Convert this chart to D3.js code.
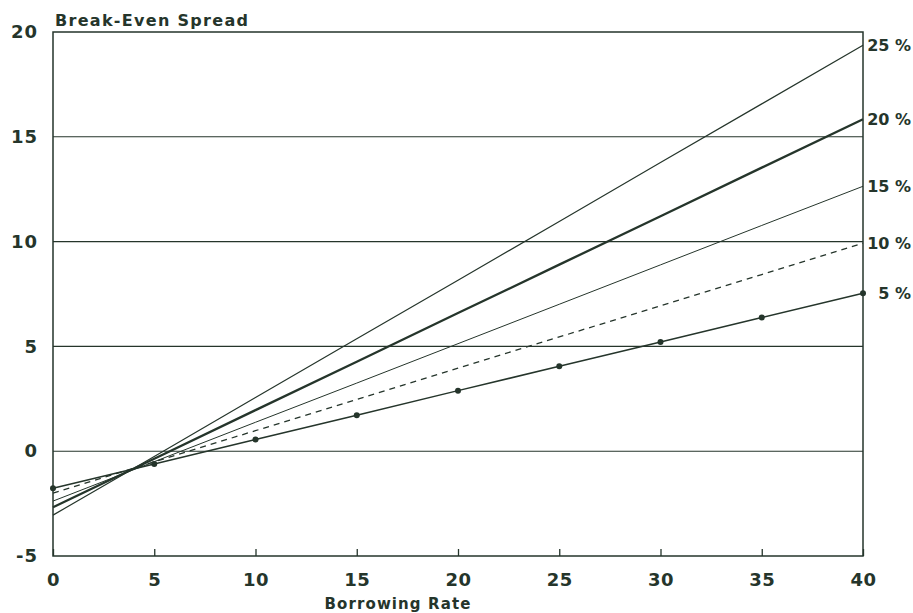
<!DOCTYPE html>
<html>
<head>
<meta charset="utf-8">
<script src="https://cdn.jsdelivr.net/npm/d3@7"></script>
<style>
  body { margin: 0; background: #fff; }
  text { font-family: "DejaVu Sans", "Liberation Sans", sans-serif; font-weight: bold; fill: #25352b; }
</style>
</head>
<body>
<svg id="chart" width="913" height="613"></svg>
<script>
// borrowing rate (x) and break-even spread per tax rate
let rates = [0, 5, 10, 15, 20, 25, 30, 35, 40];
let series25 = [-3.05, -0.25, 2.56, 5.36, 8.16, 10.96, 13.77, 16.57, 19.37];
let series20 = [-2.67, -0.36, 1.96, 4.27, 6.59, 8.90, 11.21, 13.53, 15.84];
let series15 = [-2.38, -0.50, 1.38, 3.25, 5.13, 7.01, 8.89, 10.77, 12.64];
let series10 = [-2.00, -0.51, 0.98, 2.47, 3.96, 5.45, 6.94, 8.43, 9.92];
let series05 = [-1.77, -0.61, 0.56, 1.72, 2.89, 4.05, 5.21, 6.38, 7.54];
let seriesNames = ["25 %", "20 %", "15 %", "10 %", "5 %"];
let xTicks = [0, 5, 10, 15, 20, 25, 30, 35, 40];
let yTicks = [-5, 0, 5, 10, 15, 20];

let ink = "#25352b";
let svg = d3.select("#chart");

let margin = { left: 53, right: 50, top: 32, bottom: 57 };
let width = 913 - margin.left - margin.right;
let height = 613 - margin.top - margin.bottom;

let x = d3.scaleLinear().domain([0, 40]).range([margin.left, margin.left + width]);
let y = d3.scaleLinear().domain([-5, 20]).range([margin.top + height, margin.top]);

// gridlines
svg.append("g").
selectAll("line").
data([0, 5, 10, 15]).
enter().
append("line").
attr("x1", x(0)).
attr("x2", x(40)).
attr("y1", d => y(d)).
attr("y2", d => y(d)).
attr("stroke", ink).
attr("stroke-width", 1.1);

// frame
svg.append("rect").
attr("x", x(0)).
attr("y", y(20)).
attr("width", x(40) - x(0)).
attr("height", y(-5) - y(20)).
attr("fill", "none").
attr("stroke", ink).
attr("stroke-width", 1.5);

// x axis
let xAxis = d3.axisBottom(x).tickValues(xTicks).tickSizeInner(-7).tickSizeOuter(0).tickPadding(17);
let gx = svg.append("g").attr("transform", `translate(0,${y(-5)})`).call(xAxis);
gx.select(".domain").remove();
gx.selectAll("line").attr("stroke", ink).attr("stroke-width", 1.3);
gx.selectAll("text").attr("font-size", 18).attr("fill", ink).attr("font-family", null).style("letter-spacing", "0.5px");

// y axis
let yAxis = d3.axisLeft(y).tickValues(yTicks).tickSize(0).tickPadding(15).
tickFormat(d => d < 0 ? "-" + Math.abs(d) : String(d));
let gy = svg.append("g").attr("transform", `translate(${x(0)},0)`).call(yAxis);
gy.select(".domain").remove();
gy.selectAll("text").attr("font-size", 18).attr("fill", ink).attr("font-family", null).style("letter-spacing", "1px");

// lines
let allSeries = [series25, series20, series15, series10, series05];
let styles = [
  { w: 1.2, dash: null },
  { w: 2.3, dash: null },
  { w: 1.0, dash: null },
  { w: 1.3, dash: "6,5" },
  { w: 1.5, dash: null }
];

let line = d3.line().
x((d, i) => x(rates[i])).
y(d => y(d));

svg.append("g").
selectAll("path").
data(allSeries).
enter().
append("path").
attr("d", d => line(d)).
attr("fill", "none").
attr("stroke", ink).
attr("stroke-width", (d, i) => styles[i].w).
attr("stroke-dasharray", (d, i) => styles[i].dash);

// markers on 5% line
svg.append("g").
selectAll("circle").
data(series05).
enter().
append("circle").
attr("cx", (d, i) => x(rates[i])).
attr("cy", d => y(d)).
attr("r", 3).
attr("fill", ink);

// series labels at right
svg.append("g").
selectAll("text").
data(allSeries).
enter().
append("text").
attr("x", 911).
attr("y", d => y(d[d.length - 1])).
attr("dy", "0.36em").
attr("text-anchor", "end").
attr("font-size", 16).
text((d, i) => seriesNames[i]);

// titles
svg.append("text").
attr("x", 55).
attr("y", 26).
attr("font-size", 16).
style("letter-spacing", "1.3px").
text("Break-Even Spread");

svg.append("text").
attr("x", 398).
attr("y", 609).
attr("text-anchor", "middle").
attr("font-size", 15).
style("letter-spacing", "1.1px").
text("Borrowing Rate");
</script>
</body>
</html>
